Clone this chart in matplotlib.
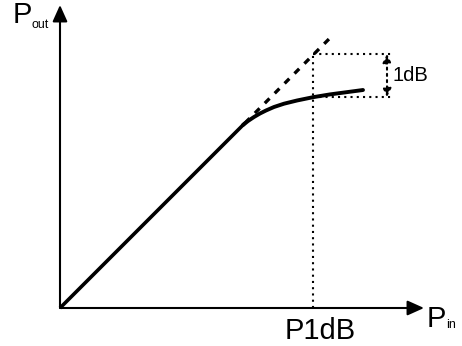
import matplotlib
matplotlib.use("Agg")
import matplotlib.pyplot as plt

plt.rcParams['font.family'] = ['Liberation Sans', 'DejaVu Sans']

# Linear region (input power vs output power, arbitrary units)
lin_in = [0, 185]
lin_out = [0, 185]
# Ideal extrapolation (dashed)
ideal_in = [185, 273]
ideal_out = [185, 273]
# Compressed response
comp_in = [183, 188, 194, 200, 206, 214, 224, 237, 253, 270, 288, 303]
comp_out = [183, 187, 191, 194.5, 197.5, 201, 204.3, 207.5, 210.8, 213.6, 216, 218]
# 1 dB compression point
p1db_in = 253
p1db_ideal = 254
p1db_real = 211
bracket_end = 331
arrow_x = 327
x_axis_end = 364
y_axis_end = 303

fig = plt.figure(figsize=(4.62, 3.46), dpi=100)
ax = fig.add_axes([0, 0, 1, 1])
ax.set_xlim(-60, 402)
ax.set_ylim(-38, 308)
ax.axis('off')

# axes with arrows
ax.annotate('', xy=(x_axis_end, 0), xytext=(0, 0),
            arrowprops=dict(arrowstyle='-|>,head_length=1.0,head_width=0.45', lw=1.5, color='black',
                            shrinkA=0, shrinkB=0))
ax.annotate('', xy=(0, y_axis_end), xytext=(0, 0),
            arrowprops=dict(arrowstyle='-|>,head_length=1.0,head_width=0.45', lw=1.5, color='black',
                            shrinkA=0, shrinkB=0))

ax.plot(lin_in, lin_out, color='black', lw=2.6, solid_capstyle='butt')
ax.plot(comp_in, comp_out, color='black', lw=2.8, solid_capstyle='round', solid_joinstyle='round')
ax.plot(ideal_in, ideal_out, color='black', lw=2.4, linestyle=(0, (2.0, 2.2)))

# dotted guides
dot = (0, (1, 2))
ax.plot([p1db_in, p1db_in], [0, p1db_ideal], color='black', lw=1.5, linestyle=dot)
ax.plot([p1db_in, bracket_end], [p1db_ideal, p1db_ideal], color='black', lw=1.5, linestyle=dot)
ax.plot([p1db_in, bracket_end], [p1db_real, p1db_real], color='black', lw=1.5, linestyle=dot)
ax.annotate('', xy=(arrow_x, p1db_ideal), xytext=(arrow_x, p1db_real),
            arrowprops=dict(arrowstyle='<|-|>,head_length=0.5,head_width=0.25', lw=1.5,
                            linestyle=dot, color='black', shrinkA=0, shrinkB=0))

ax.text(arrow_x + 5, (p1db_ideal + p1db_real) / 2, '1dB', fontsize=14.5, va='center', ha='left')
ax.text(p1db_in + 7, -9, 'P1dB', fontsize=21, va='top', ha='center')
ax.text(-47, 285, 'P', fontsize=21, va='baseline', ha='left')
ax.text(-28, 280, 'out', fontsize=9, va='baseline', ha='left')
ax.text(367, -19, 'P', fontsize=21, va='baseline', ha='left')
ax.text(386, -20, 'in', fontsize=9, va='baseline', ha='left')

fig.savefig('out.png', dpi=100)
